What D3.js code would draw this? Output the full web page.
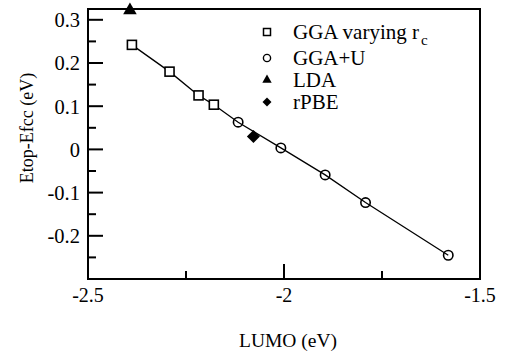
<!DOCTYPE html>
<html>
<head>
<meta charset="utf-8">
<script src="https://cdn.jsdelivr.net/npm/d3@7"></script>
<style>
  body { margin: 0; background: #fff; }
  svg text { font-family: "Liberation Serif", "Times New Roman", serif; fill: #000; }
</style>
</head>
<body>
<div id="chart"></div>
<script>
// GGA with varying core radius
var ggaRcLumo = [-2.388, -2.292, -2.218, -2.179];
var ggaRcE    = [0.242, 0.180, 0.125, 0.1035];
// GGA+U
var ggaULumo = [-2.117, -2.008, -1.895, -1.792, -1.581];
var ggaUE    = [0.063, 0.0035, -0.059, -0.123, -0.245];
// LDA and rPBE single points
var ldaLumo = [-2.393];
var ldaE    = [0.322];
var rpbeLumo = [-2.078];
var rpbeE    = [0.030];

var xMajorTicks = [-2.5, -2, -1.5];
var xMinorTicks = [-2.25, -1.75];
var yMajorTicks = [-0.2, -0.1, 0, 0.1, 0.2, 0.3];
var yMinorTicks = [-0.25, -0.15, -0.05, 0.05, 0.15, 0.25];

var legendLabels = ["GGA varying r", "GGA+U", "LDA", "rPBE"];

var margin = { top: 9, right: 27, bottom: 75, left: 88 },
  width = 507 - margin.left - margin.right,
  height = 354 - margin.top - margin.bottom;

var svg = d3.select("#chart")
  .append("svg")
  .attr("width", 507)
  .attr("height", 354)
  .append("g")
  .attr("transform", "translate(" + margin.left + "," + margin.top + ")");

var x = d3.scaleLinear().domain([-2.5, -1.5]).range([0, width]);
var y = d3.scaleLinear().domain([-0.3, 0.325]).range([height, 0]);

var fmt = d => d3.format("")(d).replace("−", "-");

// frame
svg.append("rect")
  .attr("width", width)
  .attr("height", height)
  .attr("fill", "none")
  .attr("stroke", "#000")
  .attr("stroke-width", 2);

// bottom axis, ticks pointing inward
var xAxis = svg.append("g").attr("transform", "translate(0," + height + ")");
xAxis.selectAll(".maj").data(xMajorTicks).enter().append("line")
  .attr("x1", d => x(d)).attr("x2", d => x(d))
  .attr("y1", 0).attr("y2", -15)
  .attr("stroke", "#000").attr("stroke-width", 2);
xAxis.selectAll(".min").data(xMinorTicks).enter().append("line")
  .attr("x1", d => x(d)).attr("x2", d => x(d))
  .attr("y1", 0).attr("y2", -8)
  .attr("stroke", "#000").attr("stroke-width", 2);
xAxis.selectAll("text").data(xMajorTicks).enter().append("text")
  .attr("x", d => x(d))
  .attr("y", 23)
  .attr("text-anchor", "middle")
  .style("font-size", "20px")
  .text(fmt);

// left axis
var yAxis = svg.append("g");
yAxis.selectAll(".maj").data(yMajorTicks).enter().append("line")
  .attr("x1", 0).attr("x2", 15)
  .attr("y1", d => y(d)).attr("y2", d => y(d))
  .attr("stroke", "#000").attr("stroke-width", 2);
yAxis.selectAll(".min").data(yMinorTicks).enter().append("line")
  .attr("x1", 0).attr("x2", 8)
  .attr("y1", d => y(d)).attr("y2", d => y(d))
  .attr("stroke", "#000").attr("stroke-width", 2);
yAxis.selectAll("text").data(yMajorTicks).enter().append("text")
  .attr("x", -8)
  .attr("y", d => y(d))
  .attr("dy", "0.36em")
  .attr("text-anchor", "end")
  .style("font-size", "20.5px")
  .text(fmt);

// axis titles
svg.append("text")
  .attr("x", width / 2 + 4)
  .attr("y", height + 68)
  .attr("text-anchor", "middle")
  .style("font-size", "19.5px")
  .text("LUMO (eV)");

svg.append("text")
  .attr("transform", "translate(" + (-55) + "," + (height / 2 - 16) + ") rotate(-90)")
  .attr("text-anchor", "middle")
  .style("font-size", "18px")
  .text("Etop-Efcc (eV)");

// line through GGA points
var linePts = ggaRcLumo.map((v, i) => [v, ggaRcE[i]])
  .concat(ggaULumo.map((v, i) => [v, ggaUE[i]]))
  .sort((a, b) => a[0] - b[0]);

svg.append("path")
  .datum(linePts)
  .attr("fill", "none")
  .attr("stroke", "#000")
  .attr("stroke-width", 1.3)
  .attr("d", d3.line().x(d => x(d[0])).y(d => y(d[1])));

// markers
svg.append("g").selectAll("rect")
  .data(ggaRcLumo.map((v, i) => [v, ggaRcE[i]]))
  .enter().append("rect")
  .attr("x", d => x(d[0]) - 4.5)
  .attr("y", d => y(d[1]) - 4.5)
  .attr("width", 9).attr("height", 9)
  .attr("fill", "#fff").attr("stroke", "#000").attr("stroke-width", 1.6);

svg.append("g").selectAll("circle")
  .data(ggaULumo.map((v, i) => [v, ggaUE[i]]))
  .enter().append("circle")
  .attr("cx", d => x(d[0]))
  .attr("cy", d => y(d[1]))
  .attr("r", 4.7)
  .attr("fill", "none").attr("stroke", "#000").attr("stroke-width", 1.6);

var tri = d3.symbol().type(d3.symbolTriangle).size(80);
svg.append("g").selectAll("path")
  .data(ldaLumo.map((v, i) => [v, ldaE[i]]))
  .enter().append("path")
  .attr("d", tri)
  .attr("transform", d => "translate(" + x(d[0]) + "," + y(d[1]) + ")")
  .attr("fill", "#000");

var dia = d3.symbol().type(d3.symbolSquare).size(85);
svg.append("g").selectAll("path")
  .data(rpbeLumo.map((v, i) => [v, rpbeE[i]]))
  .enter().append("path")
  .attr("d", dia)
  .attr("transform", d => "translate(" + x(d[0]) + "," + y(d[1]) + ") rotate(45)")
  .attr("fill", "#000");

// legend
var leg = svg.append("g").attr("transform", "translate(179,0)");
var rowY = [23, 49, 71, 93];

leg.append("rect")
  .attr("x", -3.5).attr("y", rowY[0] - 3.5)
  .attr("width", 7).attr("height", 7)
  .attr("fill", "none").attr("stroke", "#000").attr("stroke-width", 1.5);
leg.append("circle")
  .attr("cx", 0).attr("cy", rowY[1])
  .attr("r", 3.6)
  .attr("fill", "none").attr("stroke", "#000").attr("stroke-width", 1.4);
leg.append("path")
  .attr("d", d3.symbol().type(d3.symbolTriangle).size(38))
  .attr("transform", "translate(0," + rowY[2] + ")")
  .attr("fill", "#000");
leg.append("path")
  .attr("d", d3.symbol().type(d3.symbolSquare).size(40))
  .attr("transform", "translate(0," + rowY[3] + ") rotate(45)")
  .attr("fill", "#000");

leg.selectAll("text.lab").data(legendLabels).enter().append("text")
  .attr("class", "lab")
  .attr("x", 26)
  .attr("y", (d, i) => rowY[i] + 7)
  .style("font-size", "21px")
  .each(function (d, i) {
    var t = d3.select(this);
    t.append("tspan").text(d);
    if (i === 0) {
      t.append("tspan").attr("dx", 2).attr("dy", 6).style("font-size", "15px").text("c");
    }
  });
</script>
</body>
</html>
